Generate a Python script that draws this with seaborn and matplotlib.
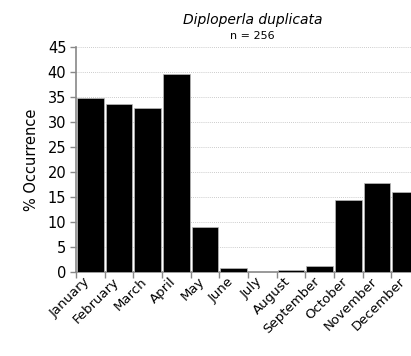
import numpy as np
import pandas as pd
import matplotlib
matplotlib.use("Agg")
import matplotlib.pyplot as plt
import matplotlib.transforms as mtransforms
import seaborn as sns

months = ["January", "February", "March", "April", "May", "June", "July",
          "August", "September", "October", "November", "December"]
occurrence = [34.7, 33.5, 32.8, 39.5, 8.9, 0.8, 0.0, 0.3, 1.1, 14.3, 17.7, 16.0]

species = "Diploperla duplicata"
n_label = "n = 256"

sns.set_theme(style="white")
plt.rcParams["font.family"] = ["DejaVu Sans"]
plt.rcParams["text.color"] = "black"
plt.rcParams["xtick.color"] = "black"
plt.rcParams["ytick.color"] = "black"
plt.rcParams["axes.labelcolor"] = "black"

df = pd.DataFrame({"month": months, "pct": occurrence})

fig = plt.figure(figsize=(4.11, 3.56), dpi=100)
ax = fig.add_axes([0.185, 0.236, 0.837, 0.632])

sns.barplot(data=df, x="month", y="pct", color="black", width=0.93,
            saturation=1, edgecolor="#bbbbbb", linewidth=0.5, ax=ax, zorder=3)

ax.set_ylim(0, 45)
ax.set_yticks(np.arange(0, 50, 5))
ax.set_xlim(-0.5, len(months) - 0.5)

ax.yaxis.grid(True, linestyle=(0, (1, 1.5)), color="#bbbbbb", linewidth=0.6, zorder=0)
ax.xaxis.grid(False)

for s in ["top", "right"]:
    ax.spines[s].set_visible(False)
ax.spines["left"].set_color("#888888")
ax.spines["bottom"].set_color("#888888")
ax.spines["left"].set_linewidth(1.2)
ax.spines["bottom"].set_linewidth(1.2)

# tick marks between bars, labels under bar centres
ax.set_xticks(np.arange(-0.5, len(months), 1), minor=True)
ax.tick_params(axis="x", which="minor", length=4, color="#888888", width=1, bottom=True)
ax.tick_params(axis="x", which="major", length=0, pad=2)
ax.tick_params(axis="y", length=4, color="#888888", width=1, left=True, labelsize=10.5, pad=3)
ax.set_xticks(range(len(months)))
ax.set_xticklabels(months, rotation=45, ha="right", rotation_mode="anchor", fontsize=9.5)
shift = mtransforms.ScaledTranslation(-5 / 72, 0, fig.dpi_scale_trans)
for lbl in ax.get_xticklabels():
    lbl.set_transform(lbl.get_transform() + shift)

ax.set_xlabel("")
ax.set_ylabel("% Occurrence", fontsize=10.5, labelpad=6)

fig.text(0.615, 0.945, species, ha="center", va="center", fontsize=10, style="italic")
fig.text(0.615, 0.898, n_label, ha="center", va="center", fontsize=8)

fig.savefig("out.png", dpi=100)
plt.close(fig)
